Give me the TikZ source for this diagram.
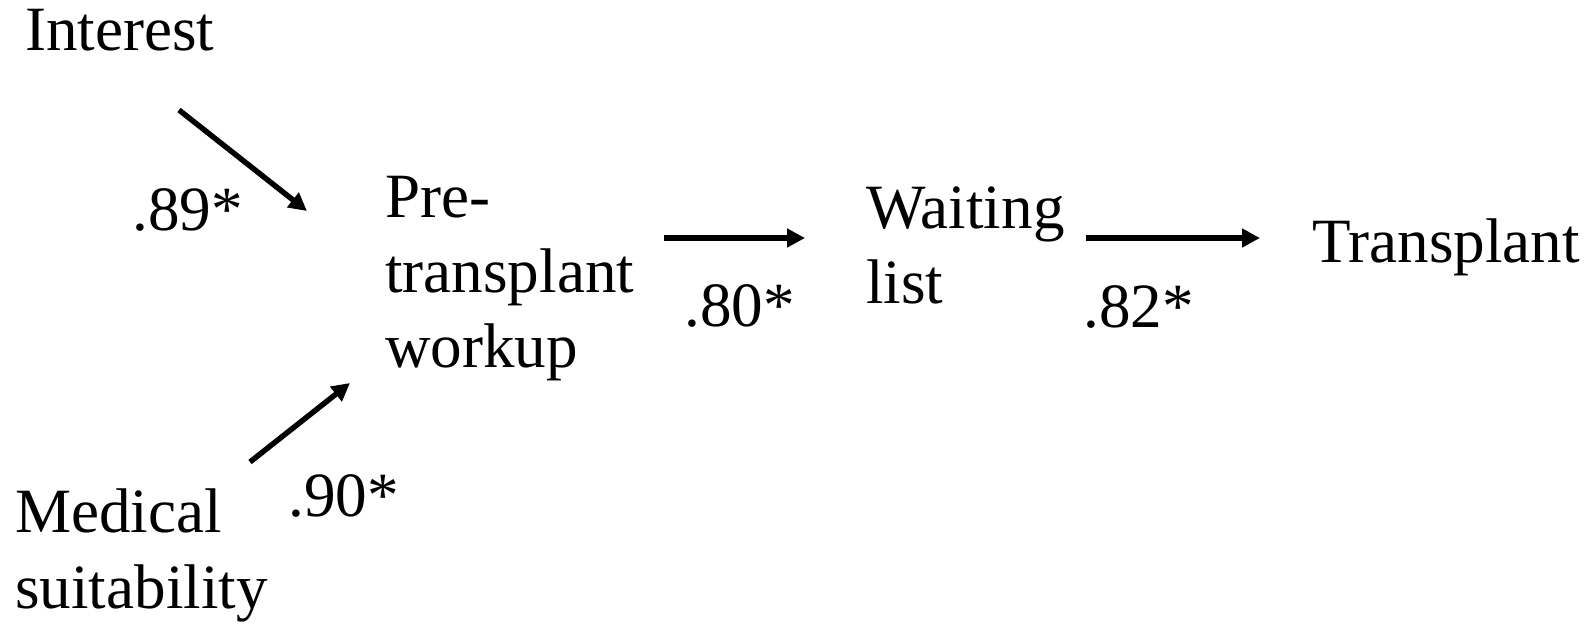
\documentclass[tikz,border=0pt]{standalone}
\usepackage{fontspec}
\setmainfont{Liberation Serif}
\usepackage{tikz}
\usetikzlibrary{arrows.meta}
\tikzstyle{stage} = [inner sep=0pt, anchor=base west, align=left, font=\fontsize{35.9pt}{42.7pt}\selectfont]
\tikzstyle{coef} = [inner sep=0pt, anchor=base west, font=\fontsize{35.9pt}{42.7pt}\selectfont]
\tikzstyle{line} = [draw, line width=3.1pt, black, -{Triangle[length=0.36cm,width=0.36cm]}]

\begin{document}
\begin{tikzpicture}[x=0.02cm, y=-0.02cm]
		\useasboundingbox (0,0) rectangle (1589,624);
		% Place nodes (base = last line)
		\node [stage] (interest) at (25,51) {Interest};
		\node [stage] (pre) at (385,368) {Pre-\\transplant\\workup};
		\node [stage] (wait) at (866,304) {Waiting\\list};
		\node [stage] (trans) at (1312,263) {Transplant};
		\node [stage] (medical) at (15,608) {Medical\\suitability};
		% Coefficients
		\node [coef] (c89) at (132,231) {.89*};
		\node [coef] (c90) at (288,517) {.90*};
		\node [coef] (c80) at (684,327) {.80*};
		\node [coef] (c82) at (1083,328) {.82*};
		% Arrow ends
		\coordinate (interest-out) at (179,110);
		\coordinate (pre-in1) at (307,211);
		\coordinate (medical-out) at (250,462);
		\coordinate (pre-in2) at (350,383);
		% Draw edges
		\path [line] (interest-out) -- (pre-in1);
		\path [line] (medical-out) -- (pre-in2);
		\path [line, shorten <=0.6cm, shorten >=1.22cm] (pre.east |- 0,238) -- (wait.west |- 0,238);
		\path [line, shorten <=0.42cm, shorten >=1.04cm] (wait.east |- 0,238) -- (trans.west |- 0,238);
	\end{tikzpicture}
\end{document}
